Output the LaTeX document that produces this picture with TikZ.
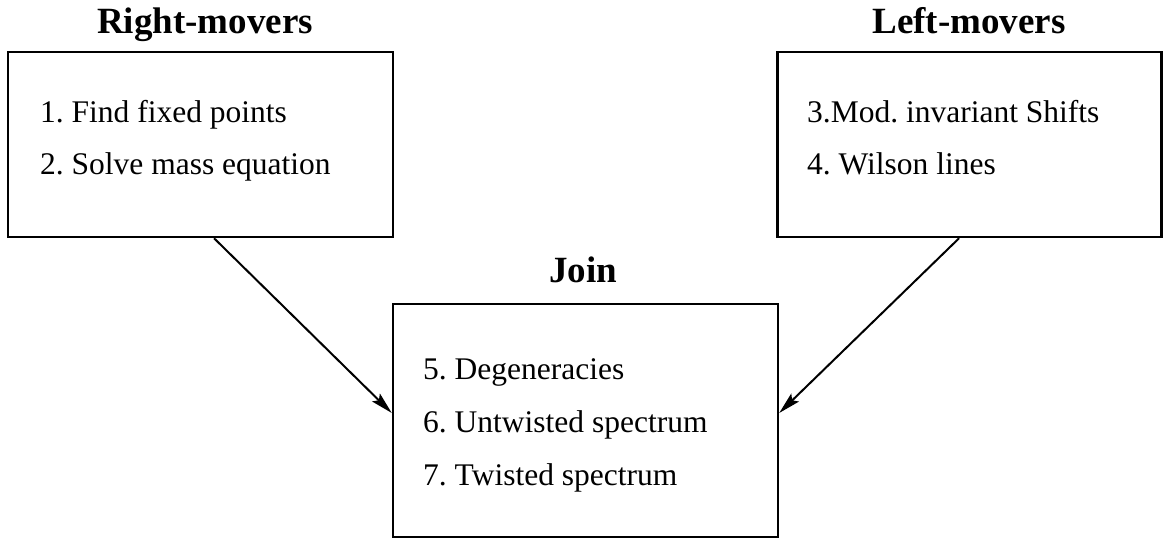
\documentclass[tikz,border=0pt]{standalone}
\usepackage{fontspec}
\setmainfont{Liberation Serif}
\usetikzlibrary{arrows.meta,calc}
\frenchspacing
\begin{document}
\begin{tikzpicture}[x=1pt,y=-1pt,
  box/.style={draw, line width=2.5pt, rectangle, inner sep=0pt},
  title/.style={font=\fontsize{37}{40}\selectfont\bfseries, anchor=base, inner sep=0pt},
  item/.style={font=\fontsize{31.5}{34}\selectfont, anchor=base west, inner sep=0pt},
  arr/.style={line width=2pt, -{Stealth[length=22pt,width=11pt,inset=4pt]}}]
\useasboundingbox (0,0) rectangle (1165,540);
% boxes
\node[box, minimum width=385pt, minimum height=185pt] (rm) at (200.5,144.5) {};
\node[box, minimum width=384pt, minimum height=185pt] (lm) at (969.5,144.5) {};
\node[box, minimum width=385pt, minimum height=233pt] (join) at (585.5,420.5) {};
% titles
\node[title] (trm) at (205,34) {Right-movers};
\node[title] (tlm) at (969,34) {Left-movers};
\node[title] (tj) at (583,283) {Join};
% items
\node[item] (i1) at (40,123) {1. Find fixed points};
\node[item] (i2) at (40,175) {2. Solve mass equation};
\node[item] (i3) at (807,123) {3.Mod. invariant Shifts};
\node[item] (i4) at (807,175) {4. Wilson lines};
\node[item] (i5) at (423,379) {5. Degeneracies};
\node[item] (i6) at (423,432) {6. Untwisted spectrum};
\node[item] (i7) at (423,485) {7. Twisted spectrum};
% connectors
\coordinate (a1) at ($(rm.south west)!0.535!(rm.south east)$);
\coordinate (b1) at ($(join.north west)!0.468!(join.south west)$);
\coordinate (a2) at ($(lm.south west)!0.473!(lm.south east)$);
\coordinate (b2) at ($(join.north east)!0.468!(join.south east)$);
\draw[arr] (a1) -- (b1);
\draw[arr] (a2) -- (b2);
\end{tikzpicture}
\end{document}
